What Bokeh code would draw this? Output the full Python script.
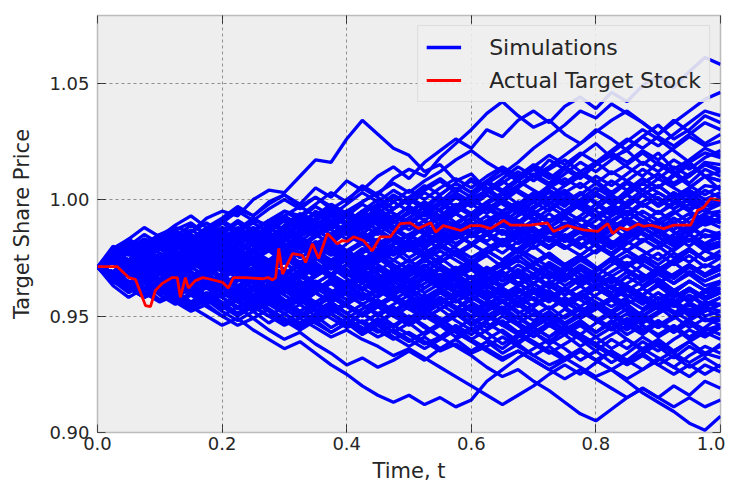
from bokeh.plotting import figure
from bokeh.models import (Range1d, LinearAxis, FixedTicker, Legend, LegendItem,
                          PrintfTickFormatter, CustomJSTickFormatter)
from bokeh.embed import file_html
from bokeh.resources import INLINE

# ---------------- data ----------------
t_grid = [0.000, 0.025, 0.050, 0.075, 0.100, 0.125, 0.150, 0.175, 0.200, 0.225,
          0.250, 0.275, 0.300, 0.325, 0.350, 0.375, 0.400, 0.425, 0.450, 0.475,
          0.500, 0.525, 0.550, 0.575, 0.600, 0.625, 0.650, 0.675, 0.700, 0.725,
          0.750, 0.775, 0.800, 0.825, 0.850, 0.875, 0.900, 0.925, 0.950, 0.975,
          1.000]

sim_01 = [0.971,0.976,0.980,0.978,0.985,0.988,0.986,0.992,0.995,0.993,
          1.000,1.004,1.003,1.010,1.017,1.016,1.026,1.034,1.028,1.022,
          1.019,1.012,1.015,1.008,1.011,1.004,1.009,1.014,1.010,1.017,
          1.013,1.019,1.024,1.018,1.021,1.015,1.020,1.013,1.017,1.022,
          1.019]
sim_02 = [0.971,0.974,0.979,0.983,0.981,0.987,0.990,0.985,0.991,0.996,
          0.993,0.999,1.002,0.998,1.005,1.001,1.008,1.004,1.010,1.014,
          1.009,1.016,1.021,1.026,1.022,1.030,1.027,1.034,1.038,1.033,
          1.040,1.044,1.039,1.046,1.042,1.049,1.053,1.048,1.055,1.061,
          1.058]
sim_03 = [0.971,0.968,0.973,0.977,0.975,0.981,0.979,0.984,0.988,0.986,
          0.991,0.989,0.995,0.993,0.998,1.003,0.999,1.006,1.002,1.009,
          1.013,1.010,1.018,1.024,1.030,1.037,1.042,1.036,1.031,1.034,
          1.028,1.024,1.030,1.026,1.021,1.027,1.032,1.026,1.030,1.036,
          1.033]
sim_04 = [0.971,0.975,0.972,0.978,0.982,0.979,0.984,0.981,0.987,0.990,
          0.986,0.983,0.989,0.994,0.991,0.997,0.993,0.990,0.996,1.001,
          0.998,1.003,0.999,1.005,1.001,1.007,1.011,1.016,1.022,1.027,
          1.032,1.038,1.035,1.041,1.037,1.033,1.028,1.034,1.029,1.024,
          1.028]
sim_05 = [0.971,0.967,0.972,0.970,0.975,0.980,0.977,0.983,0.980,0.985,
          0.982,0.988,0.992,0.989,0.995,0.991,0.986,0.991,0.997,1.002,
          0.998,1.004,1.008,1.003,1.009,1.005,1.000,1.006,1.011,1.007,
          1.013,1.009,1.015,1.019,1.014,1.010,1.016,1.012,1.007,1.013,
          1.010]
sim_06 = [0.971,0.973,0.969,0.974,0.971,0.976,0.973,0.979,0.976,0.981,
          0.978,0.984,0.988,0.985,0.990,0.987,0.993,0.989,0.985,0.990,
          0.994,0.999,0.995,1.001,0.997,1.003,1.008,1.003,0.999,1.004,
          1.000,0.996,1.002,0.998,1.004,1.009,1.005,1.011,1.006,1.002,
          1.006]
sim_07 = [0.971,0.976,0.973,0.968,0.973,0.970,0.975,0.979,0.976,0.972,
          0.977,0.981,0.978,0.983,0.979,0.984,0.988,0.985,0.991,0.987,
          0.983,0.988,0.992,0.989,0.994,0.998,0.995,0.990,0.996,1.001,
          0.997,1.003,0.999,0.994,0.999,1.004,1.000,0.996,1.001,0.997,
          0.999]
sim_08 = [0.971,0.969,0.974,0.978,0.975,0.980,0.984,0.981,0.978,0.983,
          0.987,0.983,0.979,0.984,0.988,0.993,0.990,0.995,0.991,0.987,
          0.992,0.988,0.984,0.989,0.985,0.990,0.994,0.991,0.986,0.982,
          0.987,0.992,0.988,0.993,0.997,0.993,0.989,0.994,0.998,0.995,
          0.993]
sim_09 = [0.971,0.974,0.978,0.982,0.979,0.985,0.981,0.977,0.982,0.978,
          0.974,0.979,0.983,0.980,0.976,0.981,0.977,0.982,0.986,0.983,
          0.979,0.984,0.989,0.985,0.991,0.996,1.000,0.996,0.992,0.987,
          0.983,0.988,0.984,0.979,0.984,0.988,0.984,0.980,0.985,0.991,
          0.988]
sim_10 = [0.971,0.966,0.970,0.967,0.972,0.968,0.973,0.977,0.973,0.978,
          0.975,0.971,0.976,0.972,0.977,0.981,0.977,0.982,0.978,0.974,
          0.979,0.975,0.980,0.976,0.972,0.977,0.981,0.985,0.981,0.986,
          0.982,0.987,0.983,0.979,0.983,0.988,0.984,0.980,0.985,0.981,
          0.984]
sim_11 = [0.971,0.975,0.971,0.976,0.980,0.976,0.972,0.977,0.973,0.969,
          0.974,0.970,0.975,0.979,0.975,0.971,0.976,0.972,0.977,0.981,
          0.985,0.981,0.986,0.990,0.986,0.982,0.987,0.983,0.979,0.984,
          0.980,0.976,0.981,0.977,0.982,0.978,0.974,0.979,0.983,0.978,
          0.980]
sim_12 = [0.971,0.968,0.963,0.967,0.972,0.969,0.965,0.970,0.966,0.971,
          0.975,0.972,0.968,0.973,0.969,0.974,0.970,0.966,0.971,0.967,
          0.972,0.968,0.964,0.969,0.973,0.978,0.974,0.979,0.975,0.971,
          0.966,0.971,0.967,0.972,0.976,0.972,0.968,0.973,0.978,0.974,
          0.976]
sim_13 = [0.971,0.974,0.970,0.966,0.970,0.975,0.971,0.967,0.972,0.968,
          0.964,0.968,0.963,0.967,0.972,0.968,0.964,0.969,0.965,0.960,
          0.965,0.969,0.965,0.970,0.966,0.962,0.967,0.963,0.968,0.972,
          0.968,0.964,0.969,0.974,0.970,0.966,0.971,0.967,0.972,0.968,
          0.972]
sim_14 = [0.971,0.967,0.971,0.975,0.972,0.977,0.973,0.969,0.974,0.970,
          0.966,0.962,0.967,0.963,0.968,0.972,0.968,0.964,0.960,0.965,
          0.961,0.966,0.962,0.958,0.963,0.967,0.963,0.968,0.964,0.969,
          0.965,0.970,0.966,0.962,0.967,0.963,0.968,0.964,0.969,0.965,
          0.968]
sim_15 = [0.971,0.966,0.962,0.966,0.962,0.967,0.963,0.958,0.962,0.958,
          0.963,0.967,0.963,0.968,0.964,0.960,0.965,0.961,0.966,0.970,
          0.966,0.962,0.967,0.963,0.959,0.964,0.960,0.956,0.961,0.957,
          0.962,0.958,0.963,0.967,0.963,0.959,0.964,0.960,0.965,0.961,
          0.964]
sim_16 = [0.971,0.968,0.972,0.968,0.964,0.969,0.965,0.970,0.966,0.962,
          0.958,0.963,0.959,0.955,0.960,0.956,0.961,0.957,0.962,0.958,
          0.954,0.959,0.955,0.960,0.964,0.960,0.956,0.961,0.957,0.953,
          0.958,0.954,0.959,0.963,0.959,0.955,0.960,0.956,0.961,0.957,
          0.960]
sim_17 = [0.971,0.973,0.969,0.965,0.969,0.964,0.960,0.964,0.960,0.956,
          0.961,0.957,0.962,0.958,0.954,0.959,0.955,0.951,0.956,0.952,
          0.957,0.953,0.958,0.954,0.950,0.955,0.951,0.956,0.952,0.948,
          0.953,0.949,0.954,0.958,0.954,0.950,0.955,0.951,0.956,0.952,
          0.955]
sim_18 = [0.971,0.966,0.962,0.958,0.961,0.956,0.952,0.955,0.950,0.946,
          0.949,0.944,0.940,0.943,0.938,0.934,0.929,0.932,0.928,0.931,
          0.935,0.931,0.936,0.940,0.944,0.940,0.936,0.941,0.945,0.941,
          0.946,0.942,0.947,0.951,0.947,0.943,0.948,0.944,0.949,0.953,
          0.950]
sim_19 = [0.971,0.967,0.963,0.960,0.956,0.959,0.954,0.950,0.946,0.949,
          0.944,0.940,0.936,0.939,0.934,0.929,0.925,0.920,0.916,0.913,
          0.916,0.912,0.915,0.911,0.914,0.922,0.927,0.932,0.936,0.940,
          0.936,0.931,0.935,0.930,0.934,0.939,0.935,0.940,0.944,0.941,
          0.945]
sim_20 = [0.971,0.974,0.970,0.966,0.962,0.965,0.961,0.957,0.960,0.956,
          0.952,0.955,0.951,0.947,0.951,0.955,0.951,0.947,0.943,0.946,
          0.942,0.938,0.941,0.937,0.933,0.928,0.924,0.927,0.922,0.918,
          0.913,0.908,0.905,0.910,0.915,0.919,0.915,0.920,0.916,0.922,
          0.919]
sim_21 = [0.971,0.968,0.964,0.968,0.963,0.959,0.962,0.958,0.954,0.957,
          0.953,0.957,0.953,0.949,0.953,0.949,0.945,0.948,0.944,0.940,
          0.943,0.939,0.935,0.938,0.934,0.937,0.941,0.937,0.933,0.929,
          0.932,0.928,0.924,0.927,0.922,0.917,0.913,0.909,0.904,0.901,
          0.907]
sim_22 = [0.971,0.969,0.965,0.961,0.964,0.960,0.956,0.959,0.955,0.951,
          0.954,0.950,0.946,0.949,0.945,0.941,0.944,0.940,0.937,0.933,
          0.936,0.932,0.928,0.924,0.920,0.916,0.912,0.916,0.920,0.925,
          0.929,0.925,0.930,0.935,0.931,0.927,0.932,0.928,0.924,0.929,
          0.926]
sim_23 = [0.971,0.965,0.961,0.965,0.960,0.963,0.959,0.962,0.958,0.954,
          0.957,0.953,0.949,0.945,0.949,0.953,0.949,0.945,0.941,0.944,
          0.940,0.936,0.940,0.944,0.940,0.936,0.932,0.935,0.931,0.927,
          0.931,0.935,0.931,0.927,0.931,0.936,0.932,0.928,0.933,0.937,
          0.934]
sim_24 = [0.971,0.975,0.971,0.967,0.963,0.967,0.963,0.959,0.963,0.959,
          0.955,0.959,0.955,0.951,0.947,0.951,0.947,0.943,0.947,0.951,
          0.947,0.951,0.955,0.951,0.947,0.943,0.938,0.942,0.938,0.934,
          0.938,0.942,0.938,0.934,0.930,0.934,0.938,0.934,0.939,0.943,
          0.940]
sim_25 = [0.971,0.967,0.971,0.966,0.962,0.966,0.962,0.966,0.962,0.958,
          0.962,0.958,0.954,0.958,0.954,0.958,0.954,0.950,0.954,0.950,
          0.946,0.950,0.946,0.950,0.954,0.950,0.946,0.942,0.946,0.950,
          0.946,0.942,0.938,0.942,0.946,0.942,0.947,0.943,0.948,0.944,
          0.946]
sim_26 = [0.971,0.975,0.979,0.975,0.979,0.983,0.979,0.975,0.980,0.984,
          0.988,0.984,0.980,0.985,0.989,0.993,0.989,0.994,0.998,0.994,
          0.990,0.986,0.990,0.994,0.990,0.986,0.982,0.987,0.991,0.987,
          0.983,0.979,0.984,0.988,0.992,0.988,0.984,0.989,0.985,0.981,
          0.985]
sim_27 = [0.971,0.969,0.973,0.977,0.973,0.969,0.973,0.969,0.973,0.977,
          0.973,0.969,0.973,0.977,0.981,0.977,0.973,0.969,0.973,0.977,
          0.981,0.977,0.973,0.977,0.981,0.985,0.981,0.977,0.982,0.986,
          0.990,0.986,0.982,0.987,0.991,0.995,0.991,0.987,0.992,0.996,
          0.992]
sim_28 = [0.971,0.973,0.977,0.981,0.977,0.973,0.977,0.981,0.985,0.981,
          0.977,0.973,0.977,0.973,0.969,0.973,0.977,0.981,0.977,0.981,
          0.985,0.989,0.985,0.981,0.985,0.989,0.985,0.990,0.994,0.990,
          0.994,0.998,1.002,0.998,1.003,1.007,1.003,0.999,1.004,1.000,
          1.003]
sim_29 = [0.971,0.975,0.971,0.967,0.971,0.967,0.971,0.967,0.963,0.967,
          0.971,0.967,0.963,0.967,0.963,0.959,0.963,0.967,0.963,0.959,
          0.963,0.967,0.971,0.967,0.963,0.958,0.962,0.958,0.954,0.958,
          0.954,0.958,0.962,0.958,0.954,0.950,0.954,0.958,0.962,0.958,
          0.962]
sim_30 = [0.971,0.976,0.972,0.977,0.981,0.985,0.981,0.977,0.982,0.986,
          0.982,0.978,0.983,0.987,0.991,0.987,0.983,0.988,0.992,0.988,
          0.984,0.989,0.993,0.997,0.993,0.998,1.002,1.006,1.010,1.014,
          1.019,1.024,1.029,1.034,1.038,1.033,1.028,1.033,1.038,1.043,
          1.046]
sim_31 = [0.971,0.967,0.963,0.967,0.971,0.967,0.963,0.959,0.963,0.959,
          0.963,0.959,0.955,0.959,0.963,0.959,0.955,0.951,0.955,0.959,
          0.955,0.951,0.947,0.951,0.955,0.951,0.947,0.943,0.939,0.935,
          0.931,0.935,0.931,0.927,0.923,0.927,0.931,0.935,0.939,0.945,
          0.950]
sim_32 = [0.971,0.968,0.972,0.976,0.972,0.976,0.980,0.976,0.972,0.976,
          0.972,0.968,0.964,0.968,0.964,0.968,0.972,0.976,0.972,0.968,
          0.964,0.960,0.964,0.960,0.964,0.968,0.972,0.968,0.972,0.976,
          0.972,0.968,0.964,0.960,0.964,0.968,0.964,0.968,0.972,0.968,
          0.970]
sim_33 = [0.971,0.967,0.971,0.975,0.979,0.975,0.979,0.983,0.979,0.983,
          0.987,0.983,0.987,0.991,0.987,0.983,0.987,0.991,0.995,0.991,
          0.987,0.991,0.987,0.983,0.987,0.991,0.995,0.999,0.995,0.991,
          0.995,0.999,1.003,0.999,1.003,1.007,1.011,1.007,1.011,1.015,
          1.012]
sim_34 = [0.971,0.973,0.969,0.965,0.969,0.973,0.969,0.965,0.961,0.965,
          0.969,0.965,0.961,0.957,0.961,0.965,0.961,0.957,0.961,0.957,
          0.953,0.957,0.961,0.957,0.953,0.949,0.953,0.949,0.945,0.941,
          0.945,0.941,0.937,0.933,0.929,0.933,0.929,0.925,0.929,0.925,
          0.929]
sim_35 = [0.971,0.975,0.979,0.983,0.979,0.983,0.987,0.983,0.979,0.983,
          0.987,0.991,0.995,0.991,0.987,0.991,0.995,0.999,1.003,1.007,
          1.003,1.008,1.012,1.017,1.021,1.016,1.012,1.008,1.004,1.000,
          1.004,0.999,0.995,0.991,0.995,0.990,0.986,0.990,0.986,0.990,
          0.992]
sim_36 = [0.971,0.966,0.962,0.958,0.962,0.958,0.954,0.958,0.954,0.950,
          0.954,0.950,0.954,0.958,0.962,0.958,0.962,0.966,0.962,0.966,
          0.970,0.966,0.962,0.958,0.962,0.966,0.962,0.958,0.962,0.958,
          0.954,0.958,0.962,0.966,0.962,0.958,0.954,0.958,0.962,0.958,
          0.961]
sim_37 = [0.971,0.974,0.978,0.974,0.970,0.974,0.978,0.982,0.978,0.974,
          0.978,0.982,0.986,0.982,0.978,0.974,0.978,0.974,0.970,0.966,
          0.970,0.974,0.978,0.974,0.970,0.966,0.970,0.974,0.970,0.966,
          0.970,0.974,0.978,0.982,0.978,0.974,0.970,0.974,0.978,0.974,
          0.976]
sim_38 = [0.971,0.969,0.973,0.969,0.973,0.977,0.973,0.977,0.981,0.977,
          0.981,0.985,0.981,0.977,0.981,0.985,0.989,0.985,0.981,0.985,
          0.981,0.977,0.981,0.985,0.989,0.993,0.989,0.993,0.997,1.001,
          1.006,1.010,1.015,1.020,1.025,1.030,1.026,1.021,1.016,1.010,
          1.004]
sim_39 = [0.971,0.968,0.964,0.968,0.964,0.960,0.964,0.968,0.964,0.960,
          0.956,0.960,0.964,0.960,0.956,0.952,0.956,0.960,0.956,0.952,
          0.948,0.952,0.956,0.960,0.956,0.952,0.956,0.960,0.964,0.960,
          0.956,0.952,0.948,0.944,0.948,0.952,0.956,0.952,0.948,0.952,
          0.955]
sim_40 = [0.971,0.967,0.971,0.967,0.963,0.959,0.963,0.959,0.955,0.951,
          0.955,0.959,0.955,0.951,0.947,0.943,0.947,0.951,0.947,0.943,
          0.939,0.943,0.947,0.943,0.939,0.935,0.931,0.935,0.931,0.927,
          0.923,0.927,0.923,0.919,0.915,0.919,0.915,0.911,0.915,0.911,
          0.914]
sim_41 = [0.971,0.978,0.974,0.981,0.979,0.984,0.978,0.983,0.987,0.982,
          0.986,0.991,0.985,0.989,0.994,0.990,0.985,0.989,0.993,0.988,
          0.992,0.997,0.993,0.998,0.994,0.989,0.995,0.999,0.994,0.998,
          1.003,0.998,0.993,0.997,1.002,0.997,1.001,0.996,1.000,0.995,
          0.998]
sim_42 = [0.971,0.964,0.968,0.962,0.966,0.960,0.964,0.969,0.963,0.958,
          0.962,0.966,0.961,0.956,0.960,0.964,0.959,0.955,0.959,0.963,
          0.958,0.954,0.958,0.953,0.957,0.961,0.956,0.951,0.955,0.959,
          0.954,0.949,0.953,0.957,0.952,0.947,0.951,0.955,0.950,0.954,
          0.952]
sim_43 = [0.971,0.977,0.972,0.976,0.981,0.977,0.972,0.976,0.980,0.975,
          0.979,0.984,0.980,0.975,0.979,0.983,0.978,0.982,0.987,0.983,
          0.978,0.982,0.986,0.981,0.985,0.990,0.986,0.981,0.985,0.989,
          0.984,0.988,0.993,0.988,0.983,0.987,0.991,0.986,0.982,0.987,
          0.985]
sim_44 = [0.971,0.966,0.961,0.965,0.959,0.963,0.967,0.962,0.966,0.970,
          0.965,0.969,0.973,0.968,0.972,0.967,0.963,0.967,0.971,0.966,
          0.970,0.975,0.970,0.966,0.970,0.965,0.969,0.964,0.960,0.964,
          0.968,0.963,0.967,0.962,0.958,0.962,0.966,0.961,0.965,0.961,
          0.965]
sim_45 = [0.971,0.975,0.981,0.977,0.982,0.986,0.981,0.985,0.990,0.986,
          0.982,0.986,0.991,0.987,0.992,0.996,0.992,0.987,0.991,0.996,
          1.000,0.996,0.991,0.995,1.000,1.004,0.999,0.995,0.999,1.003,
          0.998,1.002,1.007,1.002,0.998,1.002,1.006,1.001,1.005,1.010,
          1.008]
sim_46 = [0.971,0.968,0.962,0.966,0.961,0.956,0.960,0.955,0.959,0.963,
          0.958,0.962,0.957,0.952,0.956,0.951,0.955,0.959,0.954,0.950,
          0.954,0.949,0.953,0.957,0.952,0.948,0.952,0.947,0.951,0.946,
          0.950,0.954,0.949,0.945,0.949,0.944,0.948,0.943,0.947,0.942,
          0.945]
sim_47 = [0.971,0.975,0.970,0.974,0.969,0.973,0.977,0.972,0.976,0.971,
          0.967,0.971,0.975,0.970,0.974,0.979,0.974,0.970,0.974,0.978,
          0.973,0.977,0.972,0.968,0.972,0.976,0.971,0.975,0.980,0.975,
          0.971,0.975,0.970,0.974,0.978,0.973,0.977,0.972,0.976,0.971,
          0.975]
sim_48 = [0.971,0.967,0.972,0.968,0.973,0.969,0.974,0.970,0.975,0.979,
          0.974,0.978,0.973,0.977,0.982,0.978,0.973,0.977,0.981,0.976,
          0.980,0.985,0.981,0.976,0.980,0.985,0.989,0.984,0.988,0.983,
          0.987,0.992,0.987,0.991,0.986,0.990,0.995,0.990,0.994,0.989,
          0.991]
sim_49 = [0.971,0.976,0.971,0.975,0.970,0.966,0.970,0.974,0.969,0.973,
          0.968,0.964,0.968,0.963,0.967,0.971,0.966,0.962,0.966,0.961,
          0.965,0.969,0.964,0.960,0.964,0.959,0.963,0.967,0.962,0.958,
          0.962,0.957,0.953,0.957,0.961,0.956,0.960,0.955,0.959,0.954,
          0.958]
sim_50 = [0.971,0.978,0.983,0.979,0.984,0.980,0.976,0.980,0.985,0.981,
          0.977,0.981,0.986,0.982,0.978,0.982,0.987,0.983,0.988,0.993,
          0.989,0.985,0.989,0.994,0.990,0.986,0.990,0.995,0.991,0.996,
          1.001,0.997,0.993,0.997,1.002,0.998,0.994,0.998,1.003,0.998,
          1.001]
sim_51 = [0.971,0.966,0.970,0.965,0.969,0.964,0.959,0.963,0.958,0.962,
          0.957,0.961,0.956,0.952,0.956,0.960,0.955,0.950,0.954,0.958,
          0.953,0.957,0.961,0.956,0.960,0.964,0.959,0.963,0.967,0.962,
          0.966,0.970,0.965,0.969,0.973,0.968,0.964,0.968,0.972,0.967,
          0.970]
sim_52 = [0.971,0.974,0.979,0.975,0.980,0.984,0.980,0.985,0.981,0.986,
          0.990,0.986,0.982,0.986,0.991,0.995,0.990,0.994,0.990,0.985,
          0.989,0.994,0.989,0.985,0.981,0.985,0.980,0.984,0.988,0.983,
          0.979,0.983,0.987,0.982,0.978,0.982,0.986,0.981,0.985,0.980,
          0.982]
sim_53 = [0.971,0.969,0.964,0.968,0.972,0.967,0.963,0.967,0.962,0.966,
          0.962,0.957,0.961,0.965,0.960,0.956,0.960,0.955,0.951,0.955,
          0.959,0.954,0.958,0.953,0.949,0.953,0.957,0.952,0.948,0.952,
          0.947,0.951,0.955,0.950,0.946,0.950,0.945,0.949,0.953,0.948,
          0.948]
sim_54 = [0.971,0.976,0.972,0.977,0.982,0.978,0.983,0.988,0.983,0.987,
          0.983,0.988,0.992,0.988,0.984,0.988,0.993,0.989,0.994,0.990,
          0.995,0.999,0.995,0.990,0.994,0.999,1.003,0.998,1.002,0.998,
          1.003,1.007,1.002,0.998,1.002,1.007,1.011,1.006,1.010,1.015,
          1.013]
sim_55 = [0.971,0.973,0.968,0.972,0.977,0.972,0.976,0.971,0.975,0.970,
          0.974,0.969,0.965,0.969,0.973,0.968,0.972,0.967,0.963,0.967,
          0.962,0.966,0.970,0.965,0.961,0.965,0.969,0.964,0.968,0.963,
          0.959,0.963,0.967,0.962,0.958,0.962,0.966,0.961,0.957,0.961,
          0.962]
sim_56 = [0.971,0.965,0.969,0.973,0.968,0.972,0.976,0.971,0.967,0.971,
          0.975,0.980,0.976,0.971,0.975,0.970,0.974,0.979,0.975,0.970,
          0.974,0.969,0.973,0.978,0.973,0.969,0.973,0.968,0.972,0.977,
          0.972,0.976,0.981,0.976,0.972,0.976,0.980,0.975,0.979,0.974,
          0.978]
sim_57 = [0.971,0.975,0.970,0.975,0.979,0.974,0.978,0.983,0.978,0.974,
          0.978,0.973,0.977,0.982,0.977,0.981,0.986,0.981,0.977,0.981,
          0.985,0.980,0.984,0.989,0.984,0.988,0.993,0.988,0.984,0.988,
          0.992,0.987,0.991,0.996,0.991,0.987,0.991,0.995,0.990,0.994,
          0.995]
sim_58 = [0.971,0.966,0.970,0.965,0.960,0.964,0.959,0.963,0.958,0.953,
          0.957,0.961,0.956,0.960,0.955,0.951,0.955,0.950,0.954,0.958,
          0.953,0.949,0.953,0.948,0.944,0.948,0.952,0.947,0.943,0.947,
          0.942,0.946,0.941,0.945,0.940,0.936,0.940,0.935,0.939,0.934,
          0.937]
sim_59 = [0.971,0.966,0.962,0.966,0.961,0.965,0.969,0.964,0.968,0.973,
          0.968,0.972,0.977,0.972,0.976,0.980,0.976,0.971,0.975,0.980,
          0.975,0.979,0.984,0.979,0.975,0.979,0.983,0.978,0.982,0.987,
          0.982,0.986,0.981,0.985,0.990,0.985,0.981,0.985,0.989,0.984,
          0.986]
sim_60 = [0.971,0.976,0.980,0.975,0.979,0.974,0.978,0.973,0.969,0.973,
          0.977,0.972,0.976,0.971,0.967,0.971,0.975,0.970,0.966,0.970,
          0.974,0.969,0.973,0.977,0.972,0.968,0.972,0.976,0.971,0.967,
          0.971,0.966,0.970,0.974,0.969,0.965,0.969,0.973,0.968,0.972,
          0.970]
sim_61 = [0.971,0.969,0.973,0.968,0.964,0.968,0.963,0.967,0.971,0.966,
          0.962,0.966,0.970,0.965,0.961,0.965,0.960,0.964,0.968,0.963,
          0.958,0.962,0.966,0.961,0.957,0.961,0.956,0.960,0.964,0.959,
          0.955,0.959,0.954,0.958,0.962,0.957,0.953,0.957,0.952,0.956,
          0.955]
sim_62 = [0.971,0.968,0.972,0.976,0.971,0.975,0.970,0.974,0.978,0.973,
          0.977,0.972,0.976,0.980,0.975,0.979,0.974,0.978,0.983,0.978,
          0.982,0.977,0.981,0.986,0.981,0.985,0.990,0.985,0.989,0.994,
          0.989,0.993,0.998,0.993,0.997,1.002,0.997,1.001,0.996,1.000,
          1.000]
sim_63 = [0.971,0.977,0.982,0.978,0.983,0.987,0.982,0.986,0.981,0.985,
          0.980,0.984,0.979,0.983,0.978,0.974,0.978,0.973,0.977,0.972,
          0.968,0.972,0.967,0.971,0.966,0.970,0.965,0.969,0.964,0.968,
          0.963,0.967,0.962,0.966,0.961,0.965,0.969,0.964,0.968,0.963,
          0.965]
sim_64 = [0.971,0.967,0.963,0.967,0.962,0.958,0.962,0.957,0.953,0.957,
          0.952,0.956,0.951,0.955,0.950,0.954,0.949,0.953,0.957,0.952,
          0.956,0.951,0.947,0.951,0.946,0.950,0.954,0.949,0.953,0.948,
          0.944,0.948,0.943,0.947,0.951,0.946,0.942,0.946,0.941,0.945,
          0.942]
sim_65 = [0.971,0.973,0.978,0.974,0.979,0.975,0.980,0.985,0.981,0.986,
          0.982,0.978,0.983,0.979,0.984,0.989,0.985,0.981,0.986,0.982,
          0.978,0.983,0.979,0.984,0.989,0.985,0.981,0.986,0.991,0.987,
          0.983,0.988,0.984,0.980,0.985,0.990,0.986,0.982,0.987,0.992,
          0.990]
sim_66 = [0.971,0.974,0.969,0.973,0.968,0.972,0.967,0.963,0.967,0.962,
          0.966,0.970,0.965,0.969,0.964,0.968,0.972,0.967,0.963,0.967,
          0.962,0.958,0.962,0.966,0.961,0.957,0.961,0.956,0.960,0.964,
          0.959,0.963,0.958,0.954,0.958,0.962,0.957,0.961,0.956,0.960,
          0.960]
sim_67 = [0.971,0.976,0.981,0.977,0.982,0.978,0.983,0.987,0.983,0.988,
          0.984,0.989,0.993,0.989,0.985,0.990,0.995,0.991,0.987,0.992,
          0.997,0.993,0.998,1.002,0.998,0.994,0.999,1.004,1.000,1.005,
          1.009,1.005,1.010,1.006,1.011,1.016,1.012,1.017,1.013,1.018,
          1.021]
sim_68 = [0.971,0.967,0.971,0.975,0.970,0.974,0.979,0.974,0.978,0.973,
          0.977,0.982,0.977,0.973,0.977,0.972,0.968,0.972,0.976,0.971,
          0.967,0.971,0.975,0.970,0.974,0.969,0.973,0.978,0.973,0.977,
          0.972,0.976,0.971,0.967,0.971,0.975,0.970,0.974,0.979,0.974,
          0.976]
sim_69 = [0.971,0.973,0.968,0.964,0.968,0.963,0.967,0.971,0.966,0.962,
          0.966,0.961,0.965,0.960,0.964,0.959,0.963,0.958,0.962,0.957,
          0.961,0.956,0.960,0.964,0.959,0.955,0.959,0.954,0.958,0.953,
          0.957,0.952,0.956,0.951,0.955,0.950,0.954,0.949,0.953,0.948,
          0.950]
sim_70 = [0.971,0.966,0.971,0.967,0.972,0.977,0.973,0.978,0.974,0.970,
          0.975,0.971,0.976,0.981,0.977,0.973,0.978,0.974,0.979,0.984,
          0.980,0.976,0.981,0.977,0.973,0.978,0.974,0.979,0.984,0.980,
          0.985,0.981,0.977,0.982,0.978,0.983,0.979,0.984,0.980,0.985,
          0.983]
sim_71 = [0.971,0.979,0.983,0.988,0.984,0.989,0.993,0.988,0.992,0.997,
          0.993,0.998,1.002,0.997,1.001,0.996,1.000,1.005,1.001,0.996,
          1.000,1.005,1.009,1.004,1.008,1.003,1.007,1.012,1.008,1.013,
          1.017,1.012,1.016,1.011,1.015,1.020,1.015,1.011,1.016,1.020,
          1.018]
sim_72 = [0.971,0.975,0.980,0.985,0.981,0.986,0.982,0.987,0.991,0.987,
          0.992,0.988,0.993,0.997,0.993,0.998,0.994,0.999,1.003,0.999,
          1.004,1.000,1.005,1.009,1.005,1.010,1.014,1.010,1.015,1.011,
          1.007,1.012,1.008,1.003,1.008,1.004,1.009,1.005,1.001,1.006,
          1.005]
sim_73 = [0.971,0.976,0.972,0.978,0.983,0.979,0.984,0.980,0.985,0.990,
          0.986,0.991,0.987,0.992,0.997,0.993,0.998,1.003,0.999,1.004,
          1.000,0.996,1.001,0.997,1.002,1.007,1.003,1.008,1.013,1.009,
          1.014,1.010,1.015,1.020,1.016,1.021,1.017,1.022,1.027,1.023,
          1.025]
sim_74 = [0.971,0.980,0.976,0.981,0.985,0.981,0.986,0.990,0.986,0.991,
          0.987,0.983,0.988,0.992,0.988,0.993,0.989,0.994,0.998,0.994,
          0.990,0.995,0.999,0.995,1.000,0.996,0.992,0.997,1.001,0.997,
          0.993,0.998,1.002,0.998,0.994,0.999,1.003,0.999,0.995,1.000,
          0.999]
sim_75 = [0.971,0.974,0.979,0.975,0.980,0.976,0.981,0.986,0.982,0.978,
          0.983,0.988,0.984,0.989,0.985,0.990,0.995,0.991,0.987,0.992,
          0.997,0.993,0.998,0.994,0.999,1.004,1.000,0.996,1.001,1.006,
          1.002,0.998,1.003,1.008,1.004,1.009,1.005,1.010,1.015,1.010,
          1.012]
sim_76 = [0.971,0.973,0.978,0.983,0.979,0.984,0.989,0.985,0.990,0.995,
          0.991,0.996,1.000,0.996,1.001,0.997,0.993,0.998,0.994,0.999,
          0.995,0.991,0.996,1.001,0.997,1.002,0.998,0.994,0.999,0.995,
          1.000,0.996,0.992,0.997,0.993,0.998,0.994,0.999,0.995,0.991,
          0.995]
sim_77 = [0.971,0.969,0.974,0.979,0.975,0.980,0.985,0.981,0.986,0.982,
          0.987,0.983,0.988,0.993,0.989,0.994,0.990,0.995,1.000,0.996,
          1.001,1.006,1.002,1.007,1.003,1.008,1.013,1.009,1.014,1.019,
          1.015,1.020,1.016,1.021,1.026,1.022,1.027,1.023,1.028,1.033,
          1.030]
sim_78 = [0.971,0.977,0.973,0.968,0.973,0.978,0.974,0.979,0.984,0.980,
          0.985,0.981,0.977,0.982,0.987,0.983,0.988,0.993,0.989,0.985,
          0.990,0.995,0.991,0.987,0.992,0.997,0.993,0.998,1.003,0.999,
          0.995,1.000,1.005,1.001,0.997,1.002,0.998,1.003,0.999,1.004,
          1.001]
sim_79 = [0.971,0.965,0.970,0.975,0.971,0.976,0.972,0.977,0.982,0.978,
          0.983,0.979,0.975,0.980,0.985,0.981,0.977,0.982,0.987,0.983,
          0.979,0.984,0.989,0.985,0.981,0.986,0.991,0.987,0.983,0.988,
          0.993,0.989,0.985,0.990,0.995,0.991,0.987,0.992,0.988,0.993,
          0.990]
sim_80 = [0.971,0.978,0.974,0.970,0.975,0.980,0.976,0.972,0.977,0.982,
          0.978,0.974,0.979,0.984,0.980,0.976,0.981,0.986,0.982,0.978,
          0.983,0.979,0.975,0.980,0.985,0.981,0.977,0.982,0.987,0.983,
          0.979,0.984,0.980,0.976,0.981,0.986,0.982,0.978,0.983,0.979,
          0.981]
sim_81 = [0.971,0.964,0.969,0.974,0.970,0.966,0.971,0.976,0.972,0.968,
          0.973,0.969,0.965,0.970,0.975,0.971,0.967,0.972,0.968,0.964,
          0.969,0.974,0.970,0.966,0.971,0.967,0.963,0.968,0.973,0.969,
          0.965,0.970,0.966,0.962,0.967,0.972,0.968,0.964,0.969,0.965,
          0.968]
sim_82 = [0.971,0.975,0.970,0.966,0.971,0.967,0.962,0.967,0.963,0.968,
          0.964,0.959,0.964,0.960,0.965,0.961,0.957,0.962,0.958,0.963,
          0.959,0.955,0.960,0.956,0.961,0.957,0.953,0.958,0.954,0.959,
          0.955,0.960,0.956,0.952,0.957,0.953,0.958,0.954,0.959,0.955,
          0.958]
sim_83 = [0.971,0.963,0.958,0.962,0.957,0.961,0.956,0.960,0.955,0.959,
          0.954,0.958,0.953,0.957,0.952,0.956,0.951,0.955,0.950,0.954,
          0.949,0.953,0.948,0.952,0.947,0.951,0.946,0.950,0.945,0.949,
          0.944,0.948,0.943,0.947,0.942,0.946,0.941,0.945,0.940,0.944,
          0.945]
sim_84 = [0.971,0.968,0.963,0.959,0.964,0.960,0.955,0.960,0.956,0.951,
          0.956,0.952,0.947,0.952,0.948,0.953,0.949,0.944,0.949,0.945,
          0.950,0.946,0.941,0.946,0.942,0.947,0.943,0.938,0.943,0.939,
          0.944,0.940,0.935,0.940,0.936,0.941,0.937,0.932,0.937,0.933,
          0.938]
sim_85 = [0.971,0.966,0.971,0.967,0.962,0.967,0.963,0.958,0.963,0.959,
          0.954,0.959,0.955,0.950,0.955,0.951,0.946,0.951,0.947,0.952,
          0.948,0.953,0.949,0.944,0.949,0.945,0.950,0.946,0.941,0.946,
          0.942,0.947,0.943,0.948,0.944,0.949,0.945,0.950,0.955,0.950,
          0.952]
sim_86 = [0.971,0.973,0.969,0.964,0.960,0.965,0.961,0.966,0.962,0.957,
          0.962,0.958,0.963,0.959,0.954,0.959,0.955,0.960,0.956,0.951,
          0.956,0.952,0.957,0.953,0.958,0.954,0.959,0.955,0.960,0.956,
          0.961,0.957,0.962,0.958,0.963,0.959,0.955,0.960,0.956,0.961,
          0.962]
sim_87 = [0.971,0.967,0.962,0.958,0.962,0.957,0.953,0.957,0.952,0.948,
          0.952,0.947,0.951,0.946,0.950,0.945,0.949,0.944,0.948,0.943,
          0.947,0.942,0.946,0.941,0.945,0.940,0.944,0.939,0.943,0.938,
          0.942,0.937,0.941,0.936,0.940,0.935,0.939,0.934,0.930,0.934,
          0.932]
sim_88 = [0.971,0.968,0.964,0.969,0.965,0.961,0.966,0.962,0.967,0.963,
          0.959,0.964,0.960,0.965,0.961,0.966,0.962,0.967,0.963,0.968,
          0.964,0.969,0.965,0.970,0.966,0.971,0.967,0.972,0.968,0.973,
          0.969,0.974,0.970,0.975,0.971,0.976,0.972,0.977,0.973,0.978,
          0.975]
sim_89 = [0.971,0.976,0.981,0.977,0.972,0.977,0.973,0.978,0.974,0.979,
          0.975,0.970,0.975,0.971,0.976,0.972,0.977,0.973,0.978,0.983,
          0.979,0.975,0.980,0.976,0.981,0.977,0.982,0.978,0.983,0.979,
          0.984,0.980,0.985,0.981,0.986,0.982,0.987,0.983,0.988,0.984,
          0.985]
sim_90 = [0.971,0.975,0.971,0.966,0.970,0.965,0.969,0.964,0.968,0.963,
          0.967,0.962,0.966,0.961,0.965,0.960,0.964,0.959,0.955,0.959,
          0.954,0.958,0.953,0.957,0.952,0.956,0.951,0.955,0.950,0.954,
          0.949,0.953,0.948,0.952,0.947,0.951,0.946,0.950,0.945,0.949,
          0.946]
sim_91 = [0.971,0.974,0.970,0.975,0.980,0.976,0.981,0.977,0.982,0.987,
          0.983,0.988,0.984,0.989,0.985,0.990,0.986,0.991,0.996,0.992,
          0.997,0.993,0.998,1.003,0.999,1.004,1.000,1.005,1.010,1.006,
          1.011,1.016,1.012,1.017,1.022,1.027,1.023,1.028,1.033,1.038,
          1.036]
sim_92 = [0.971,0.969,0.974,0.970,0.975,0.971,0.976,0.981,0.977,0.982,
          0.978,0.983,0.988,0.984,0.989,0.985,0.990,0.995,0.991,0.996,
          1.001,0.997,1.002,1.007,1.003,1.008,1.004,1.009,1.014,1.010,
          1.006,1.011,1.007,1.012,1.008,1.013,1.009,1.014,1.010,1.016,
          1.015]
sim_93 = [0.971,0.966,0.971,0.976,0.972,0.977,0.973,0.969,0.974,0.970,
          0.975,0.971,0.967,0.972,0.968,0.973,0.969,0.965,0.970,0.966,
          0.971,0.967,0.963,0.968,0.964,0.969,0.965,0.970,0.966,0.971,
          0.967,0.972,0.968,0.964,0.969,0.965,0.970,0.966,0.971,0.967,
          0.972]
sim_94 = [0.971,0.977,0.973,0.968,0.972,0.967,0.963,0.967,0.962,0.958,
          0.962,0.957,0.953,0.957,0.952,0.956,0.951,0.947,0.951,0.946,
          0.950,0.945,0.941,0.945,0.940,0.944,0.948,0.943,0.947,0.951,
          0.946,0.950,0.954,0.949,0.953,0.948,0.952,0.956,0.951,0.955,
          0.955]
sim_95 = [0.971,0.967,0.972,0.977,0.973,0.978,0.983,0.979,0.975,0.980,
          0.985,0.981,0.977,0.982,0.978,0.983,0.988,0.984,0.980,0.985,
          0.990,0.986,0.982,0.987,0.992,0.988,0.993,0.989,0.994,0.990,
          0.995,0.991,0.996,1.001,0.997,1.002,0.998,1.003,0.999,0.995,
          0.999]
sim_96 = [0.971,0.978,0.974,0.979,0.975,0.971,0.976,0.972,0.977,0.973,
          0.969,0.974,0.970,0.966,0.971,0.967,0.972,0.968,0.964,0.969,
          0.965,0.970,0.966,0.962,0.967,0.963,0.968,0.964,0.960,0.965,
          0.961,0.966,0.962,0.958,0.963,0.959,0.964,0.960,0.965,0.961,
          0.965]
sim_97 = [0.971,0.965,0.960,0.964,0.959,0.955,0.959,0.954,0.950,0.954,
          0.949,0.953,0.948,0.944,0.948,0.943,0.947,0.942,0.946,0.941,
          0.937,0.941,0.936,0.940,0.935,0.939,0.934,0.938,0.933,0.937,
          0.932,0.936,0.931,0.935,0.930,0.934,0.929,0.933,0.928,0.932,
          0.928]
sim_98 = [0.971,0.967,0.962,0.967,0.963,0.958,0.963,0.959,0.964,0.960,
          0.965,0.961,0.966,0.962,0.967,0.972,0.968,0.973,0.969,0.974,
          0.970,0.975,0.980,0.976,0.981,0.977,0.982,0.978,0.983,0.979,
          0.984,0.980,0.985,0.990,0.986,0.991,0.987,0.992,0.988,0.993,
          0.990]
sim_99 = [0.971,0.975,0.979,0.974,0.979,0.983,0.978,0.982,0.987,0.982,
          0.986,0.981,0.985,0.990,0.985,0.989,0.994,0.989,0.993,0.988,
          0.992,0.997,0.992,0.996,1.001,0.996,1.000,0.995,0.999,1.004,
          0.999,1.003,0.998,1.002,1.007,1.002,1.006,1.001,1.005,1.010,
          1.008]
sim_100 = [0.971,0.973,0.967,0.971,0.966,0.970,0.965,0.969,0.973,0.968,
           0.964,0.968,0.963,0.967,0.971,0.966,0.962,0.966,0.961,0.965,
           0.960,0.964,0.968,0.963,0.959,0.963,0.958,0.962,0.957,0.961,
           0.956,0.960,0.964,0.959,0.955,0.959,0.963,0.958,0.962,0.957,
           0.960]

simulations = [sim_01, sim_02, sim_03, sim_04, sim_05, sim_06, sim_07, sim_08, sim_09, sim_10,
               sim_11, sim_12, sim_13, sim_14, sim_15, sim_16, sim_17, sim_18, sim_19, sim_20,
               sim_21, sim_22, sim_23, sim_24, sim_25, sim_26, sim_27, sim_28, sim_29, sim_30,
               sim_31, sim_32, sim_33, sim_34, sim_35, sim_36, sim_37, sim_38, sim_39, sim_40,
               sim_41, sim_42, sim_43, sim_44, sim_45, sim_46, sim_47, sim_48, sim_49, sim_50,
               sim_51, sim_52, sim_53, sim_54, sim_55, sim_56, sim_57, sim_58, sim_59, sim_60,
               sim_61, sim_62, sim_63, sim_64, sim_65, sim_66, sim_67, sim_68, sim_69, sim_70,
               sim_71, sim_72, sim_73, sim_74, sim_75, sim_76, sim_77, sim_78, sim_79, sim_80,
               sim_81, sim_82, sim_83, sim_84, sim_85, sim_86, sim_87, sim_88, sim_89, sim_90,
               sim_91, sim_92, sim_93, sim_94, sim_95, sim_96, sim_97, sim_98, sim_99, sim_100]

actual_t = [0.000, 0.032, 0.050, 0.061, 0.077, 0.085, 0.093, 0.104, 0.120, 0.128,
            0.133, 0.141, 0.146, 0.157, 0.169, 0.178, 0.201, 0.210, 0.218, 0.238,
            0.265, 0.274, 0.281, 0.286, 0.291, 0.297, 0.313, 0.329, 0.334, 0.345,
            0.355, 0.369, 0.385, 0.393, 0.401, 0.411, 0.427, 0.441, 0.454, 0.470,
            0.486, 0.502, 0.515, 0.535, 0.543, 0.555, 0.583, 0.599, 0.615, 0.631,
            0.652, 0.663, 0.695, 0.722, 0.732, 0.754, 0.780, 0.803, 0.819, 0.827,
            0.839, 0.851, 0.868, 0.876, 0.888, 0.909, 0.925, 0.952, 0.963, 0.973,
            0.984, 1.000]
actual_price = [0.9712, 0.9712, 0.9665, 0.9657, 0.9545, 0.9540, 0.9610, 0.9640, 0.9665, 0.9665,
                0.9580, 0.9665, 0.9620, 0.9652, 0.9665, 0.9660, 0.9644, 0.9620, 0.9665, 0.9665,
                0.9660, 0.9665, 0.9655, 0.9665, 0.9790, 0.9680, 0.9768, 0.9760, 0.9730, 0.9810,
                0.9747, 0.9854, 0.9810, 0.9824, 0.9820, 0.9840, 0.9824, 0.9780, 0.9840, 0.9840,
                0.9897, 0.9900, 0.9876, 0.9900, 0.9860, 0.9888, 0.9867, 0.9888, 0.9888, 0.9875,
                0.9910, 0.9890, 0.9890, 0.9900, 0.9863, 0.9888, 0.9870, 0.9863, 0.9897, 0.9854,
                0.9880, 0.9870, 0.9895, 0.9885, 0.9890, 0.9875, 0.9890, 0.9890, 0.9953, 0.9966,
                1.0004, 0.9996]

x_ticks = [0.0, 0.2, 0.4, 0.6, 0.8, 1.0]
y_ticks = [0.90, 0.95, 1.00, 1.05]

for i, s in enumerate(simulations):
    if len(s) != len(t_grid):
        raise ValueError("sim %d has %d points" % (i + 1, len(s)))
if len(actual_t) != len(actual_price):
    raise ValueError("actual lengths %d %d" % (len(actual_t), len(actual_price)))

# ---------------- figure ----------------
FONT = "DejaVu Sans"
TXT = "#262626"
TICK = "#444444"

p = figure(width=725, height=487,
           x_range=Range1d(0.0, 1.0), y_range=Range1d(0.90, 1.079),
           output_backend="svg", toolbar_location=None,
           min_border_left=97, min_border_right=5, min_border_top=15, min_border_bottom=55,
           background_fill_color="#eeeeee", border_fill_color="white",
           outline_line_color="#bcbcbc", outline_line_width=1.5)

for ax, ticks, fmt in ((p.xaxis, x_ticks, "%.1f"), (p.yaxis, y_ticks, "%.2f")):
    ax.ticker = FixedTicker(ticks=ticks)
    ax.formatter = PrintfTickFormatter(format=fmt)
    ax.major_tick_in = 8
    ax.major_tick_out = 0
    ax.major_tick_line_color = TICK
    ax.major_tick_line_width = 1
    ax.minor_tick_line_color = None
    ax.axis_line_color = None
    ax.major_label_text_font = FONT
    ax.major_label_text_font_size = "18px"
    ax.major_label_text_color = TXT
    ax.axis_label_text_font = FONT
    ax.axis_label_text_font_size = "21px"
    ax.axis_label_text_font_style = "normal"
    ax.axis_label_text_color = TXT

p.xaxis.axis_label = "Time, t"
p.yaxis.axis_label = "Target Share Price"
p.xaxis.major_label_standoff = 4
p.yaxis.major_label_standoff = 8
p.xaxis.axis_label_standoff = 6
p.yaxis.axis_label_standoff = 12

for g, ticks in ((p.xgrid, x_ticks), (p.ygrid, y_ticks)):
    g.ticker = FixedTicker(ticks=ticks)
    g.grid_line_color = "black"
    g.grid_line_alpha = 0.4
    g.grid_line_dash = "3 3"
    g.grid_line_width = 1
    g.level = "guide"

# mirrored ticks on top and right (no labels)
for ticks, place in ((x_ticks, "above"), (y_ticks, "right")):
    extra = LinearAxis(ticker=FixedTicker(ticks=ticks),
                       formatter=CustomJSTickFormatter(code="return '';"),
                       major_label_standoff=0,
                       major_tick_in=8, major_tick_out=0, major_tick_line_color=TICK,
                       minor_tick_line_color=None, axis_line_color=None)
    p.add_layout(extra, place)

r_sim = p.multi_line(xs=[t_grid] * len(simulations), ys=simulations,
                     line_color="#0000ff", line_width=3.3)
r_act = p.line(actual_t, actual_price, line_color="#ff0000", line_width=2.8)

legend = Legend(items=[LegendItem(label="Simulations", renderers=[r_sim]),
                       LegendItem(label="Actual Target Stock", renderers=[r_act])],
                location="top_right", margin=10, padding=8, spacing=7,
                glyph_width=35, glyph_height=26, label_height=26, label_standoff=28,
                label_text_font=FONT, label_text_font_size="22px", label_text_color=TXT,
                border_line_color="#cccccc", border_line_width=1,
                background_fill_color="#eeeeee", background_fill_alpha=0.9)
p.add_layout(legend)

open("out.html", "w").write(file_html(p, INLINE))
